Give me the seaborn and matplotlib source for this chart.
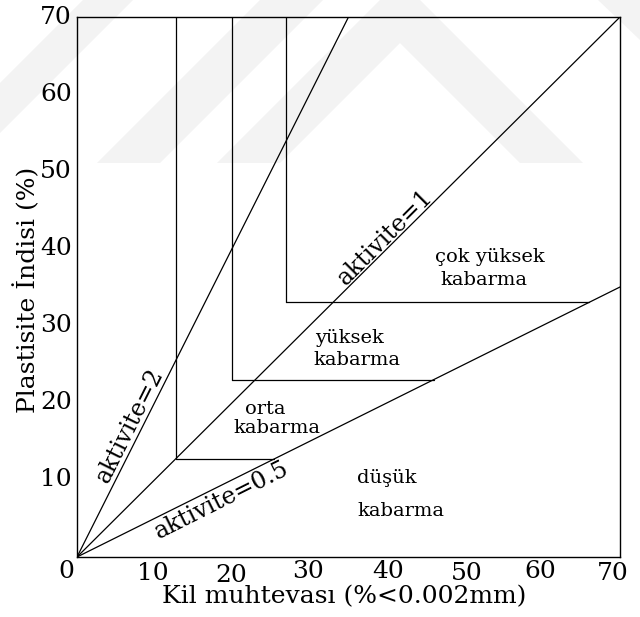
import matplotlib
matplotlib.use("Agg")
import matplotlib.pyplot as plt
import seaborn as sns
import numpy as np
from matplotlib.patches import Polygon
from matplotlib.transforms import ScaledTranslation, blended_transform_factory

sns.set_theme(style="white")
plt.rcParams['font.family'] = ['DejaVu Serif', 'Liberation Serif']
plt.rcParams['text.color'] = 'black'

# ---- data ----
activity_values = [2.0, 1.0, 0.5]
activity_labels = ["aktivite=2", "aktivite=1", "aktivite=0.5"]
# swelling zone boundaries: (clay %, PI) corner points
zone_x = [12.7, 20.0, 27.0]
zone_y = [12.7, 23.0, 33.0]
zone_line1 = ["orta", "yüksek", "çok yüksek", "düşük"]
zone_line2 = ["kabarma", "kabarma", "kabarma", "kabarma"]
tick_values = [0, 10, 20, 30, 40, 50, 60, 70]
tick_labels = ["0", "10", "20", "30", "40", "50", "60", "70"]

# ---- layout (pixels) ----
xtick_dy = [15, 17, 19, 15, 14, 16, 14, 16]   # label centre below the axis
xtick_dx = [-11, -2, -1, -2, 1, 2, -2, -7]     # small horizontal shifts
# label anchor points in data units (x, y) and rotation
act_pos = [(6.8, 17.1), (39.8, 41.5), (18.7, 7.4)]
act_rot = [63.4, 45.0, 26.6]
# zone labels: left x (px), centre y (px) for line 1 and line 2
l1_pos = [(245, 409), (315, 338), (435, 257), (357, 478)]
l2_pos = [(233, 428), (313, 360), (440, 280), (357, 511)]

X0, X1, Y0, Y1 = 77, 620, 557, 17

fig = plt.figure(figsize=(6.4, 6.17), dpi=100)

# faint watermark behind everything
wm = '#f3f3f3'
def px(pts):
    return [(x / 640, 1 - y / 617) for x, y in pts]
for pts in [
    [(0, 83), (0, 133), (133, 0), (83, 0)],
    [(97, 163), (160, 163), (323, 0), (260, 0)],
    [(217, 163), (380, 0), (420, 0), (583, 163), (520, 163), (400, 43), (280, 163)],
    [(598, 0), (640, 0), (640, 40)],
]:
    fig.patches.append(Polygon(px(pts), closed=True, transform=fig.transFigure,
                               facecolor=wm, edgecolor='none', zorder=-5))

ax = fig.add_axes([X0 / 640, 1 - Y0 / 617, (X1 - X0) / 640, (Y0 - Y1) / 617])
ax.set_facecolor('none')
ax.set_xlim(0, 70)
ax.set_ylim(0, 70)

def to_data(xp, yp):
    return (xp - X0) / (X1 - X0) * 70, (Y0 - yp) / (Y0 - Y1) * 70

lw = 0.9
kw = dict(ax=ax, color='black', linewidth=lw, estimator=None, sort=False, legend=False)
# activity lines
for a in activity_values:
    xs = np.array([0, min(70, 70 / a)])
    sns.lineplot(x=xs, y=a * xs, **kw)

# zone boundaries: vertical line up to top and horizontal to the A=0.5 line
for zx, zy in zip(zone_x, zone_y):
    sns.lineplot(x=[zx, zx], y=[zy, 70], **kw)
    sns.lineplot(x=[zx, zy / 0.5], y=[zy, zy], **kw)

for s in ax.spines.values():
    s.set_visible(True)
    s.set_color('black')
    s.set_linewidth(1.0)

ax.set_xticks(tick_values)
ax.set_yticks(tick_values)
ax.set_xticklabels([])
ax.set_yticklabels([])
ax.tick_params(length=0)
ax.set_xlabel("")
ax.set_ylabel("")

bt = blended_transform_factory(ax.transData, ax.transAxes)
for v, lab, dy, dx in zip(tick_values, tick_labels, xtick_dy, xtick_dx):
    tr = bt + ScaledTranslation(dx / 100, -dy / 100, fig.dpi_scale_trans)
    ax.text(v, 0, lab, transform=tr, ha='center', va='center', fontsize=18)
bty = blended_transform_factory(ax.transAxes, ax.transData)
for v, lab in zip(tick_values[1:], tick_labels[1:]):   # the corner "0" is shared
    tr = bty + ScaledTranslation(-5 / 100, 0, fig.dpi_scale_trans)
    ax.text(0, v, lab, transform=tr, ha='right', va='center', fontsize=18)

fig.text(344 / 640, 1 - 597 / 617, "Kil muhtevası (%<0.002mm)",
         ha='center', va='center', fontsize=18)
fig.text(27 / 640, 1 - 290 / 617, "Plastisite İndisi (%)", rotation=90,
         ha='center', va='center', fontsize=18)

# activity labels
for lab, (xd, yd), rot in zip(activity_labels, act_pos, act_rot):
    ax.text(xd, yd, lab, rotation=rot, ha='center', va='center', fontsize=17,
            rotation_mode='anchor')

# zone names
for t1, t2, p1, p2 in zip(zone_line1, zone_line2, l1_pos, l2_pos):
    ax.text(*to_data(*p1), t1, ha='left', va='center', fontsize=14)
    ax.text(*to_data(*p2), t2, ha='left', va='center', fontsize=14)

fig.savefig("out.png", dpi=100)
